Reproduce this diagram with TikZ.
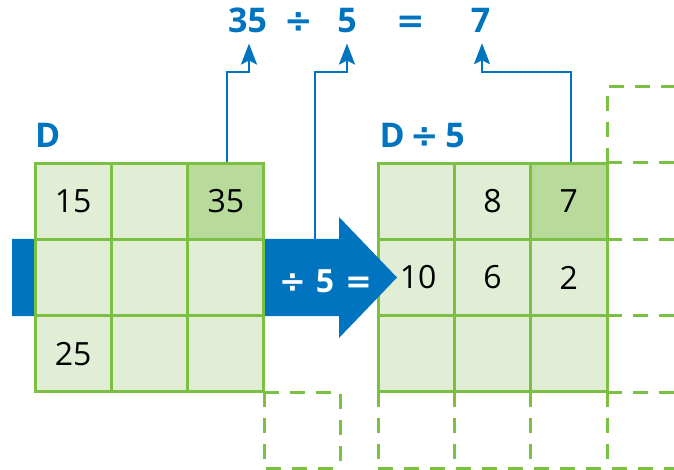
\documentclass[tikz,border=0pt]{standalone}
\usepackage{fontspec}
\setmainfont{Open Sans}
\newfontfamily\symf{DejaVu Sans}
\usetikzlibrary{arrows.meta}
\definecolor{myblue}{RGB}{0,116,190}
\definecolor{gline}{RGB}{122,193,66}
\definecolor{gfill}{RGB}{225,237,213}
\definecolor{gdark}{RGB}{184,219,155}
\begin{document}
\begin{tikzpicture}[x=1pt,y=-1pt,
 cell/.style={draw=gline, line width=3pt, fill=gfill, minimum width=76.33pt, minimum height=76.33pt, inner sep=0pt, font=\fontsize{32}{32}\selectfont, text=black},
 hl/.style={fill=gdark},
 dsh/.style={draw=gline, line width=3pt, dash pattern=on 15pt off 11pt},
 conn/.style={draw=myblue, line width=2.5pt, -{Stealth[length=21pt,width=16pt,inset=4pt]}},
 ttl/.style={text=myblue, font=\bfseries\fontsize{34}{34}\selectfont, inner sep=0pt, anchor=base},
 optxt/.style={text=white, font=\bfseries\fontsize{32}{32}\selectfont, inner sep=0pt, anchor=base}]
\useasboundingbox (0,0) rectangle (674,470);
\clip (0,0) rectangle (674,470);
% right grid
\node[cell] (R11) at (416.17,201.17) {};
\node[cell] (R12) at (492.5,201.17) {8};
\node[cell,hl] (R13) at (568.83,201.17) {7};
\node[cell] (R21) at (416.17,277.5) {\hspace*{4pt}10};
\node[cell] (R22) at (492.5,277.5) {6};
\node[cell] (R23) at (568.83,277.5) {2};
\node[cell] (R31) at (416.17,353.83) {};
\node[cell] (R32) at (492.5,353.83) {};
\node[cell] (R33) at (568.83,353.83) {};
% dashed cells
\draw[dsh] (607,163) -- (607,87) -- (690,87);
\foreach \yy in {163,239.33,315.67,392} \draw[dsh] (607,\yy) -- (690,\yy);
\draw[dsh] (607,392) -- (607,468);
\foreach \xx in {378,454.33,530.67} \draw[dsh] (\xx,392) -- (\xx,468);
\draw[dsh] (378,468) -- (690,468);
\draw[dsh] (264,392) -- (340,392) -- (340,468);
\draw[dsh] (264,392) -- (264,468) -- (340,468);
% arrow
\fill[myblue] (12,239) -- (339,239) -- (339,217) -- (397,277.5) -- (339,338) -- (339,316) -- (12,316) -- cycle;
% left grid
\node[cell] (L11) at (73.17,201.17) {15};
\node[cell] (L12) at (149.5,201.17) {};
\node[cell,hl] (L13) at (225.83,201.17) {35};
\node[cell] (L21) at (73.17,277.5) {};
\node[cell] (L22) at (149.5,277.5) {};
\node[cell] (L23) at (225.83,277.5) {};
\node[cell] (L31) at (73.17,353.83) {25};
\node[cell] (L32) at (149.5,353.83) {};
\node[cell] (L33) at (225.83,353.83) {};
% arrow text
\node[optxt] (op1) at (292.5,292) {\symf ÷};
\node[optxt] (op2) at (325,292) {5};
\node[optxt] (op3) at (358.5,292) {\symf =};
% title
\node[ttl] (T35) at (247.5,33) {35};
\node[ttl] (Tdiv) at (299,33) {\symf ÷};
\node[ttl] (T5) at (347,33) {5};
\node[ttl] (Teq) at (410.5,33) {\symf =};
\node[ttl] (T7) at (480.5,33) {7};
% labels
\node[ttl, anchor=base west] (LD) at (35,148) {D};
\node[ttl, anchor=base west] (RD) at (379.5,148) {D\hspace{6pt}{\symf ÷}\hspace{6pt}5};
% connectors
\coordinate (k1) at (227,72);
\coordinate (a2) at (315,239);
\coordinate (k2) at (315,72);
\coordinate (k3) at (571,72);
\draw[conn] (L13.north -| k1) -- (k1) -| ([xshift=1.5pt,yshift=-10pt]T35.south);
\draw[conn] (a2) -- (k2) -| ([yshift=-10pt]T5.south);
\draw[conn] (R13.north -| k3) -- (k3) -| ([xshift=1.5pt,yshift=-10pt]T7.south);
\end{tikzpicture}
\end{document}
